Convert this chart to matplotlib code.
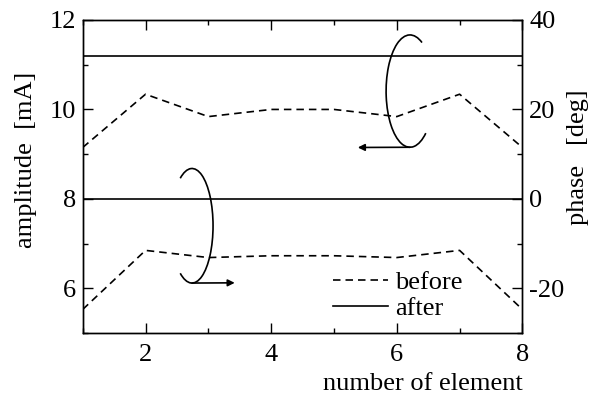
import matplotlib
matplotlib.use('Agg')
import matplotlib.pyplot as plt
from matplotlib.patches import Arc
from matplotlib.ticker import MultipleLocator

plt.rcParams['font.family'] = ['Liberation Serif', 'DejaVu Serif']
plt.rcParams['font.size'] = 19
plt.rcParams['axes.unicode_minus'] = False

elements = [1, 2, 3, 4, 5, 6, 7, 8]
amp_before = [9.15, 10.34, 9.84, 10.0, 10.0, 9.84, 10.34, 9.15]
amp_after = [11.19, 11.19, 11.19, 11.19, 11.19, 11.19, 11.19, 11.19]
phase_before = [-24.7, -11.5, -13.1, -12.7, -12.7, -13.1, -11.5, -24.7]
phase_after = [0, 0, 0, 0, 0, 0, 0, 0]

fig = plt.figure(figsize=(5.95, 3.99), dpi=100)
ax = fig.add_axes([0.139, 0.165, 0.739, 0.785])
ax2 = ax.twinx()

dash = (0, (4.5, 3))
l1, = ax.plot(elements, amp_before, color='black', lw=1.2, linestyle=dash, label='before')
l2, = ax.plot(elements, amp_after, color='black', lw=1.2, label='after')
ax2.plot(elements, phase_before, color='black', lw=1.2, linestyle=dash)
ax2.plot(elements, phase_after, color='black', lw=1.2)

ax.set_xlim(1, 8)
ax.set_ylim(5, 12)
ax2.set_ylim(-30, 40)

ax.xaxis.set_major_locator(MultipleLocator(2))
ax.xaxis.set_minor_locator(MultipleLocator(1))
ax.yaxis.set_major_locator(MultipleLocator(2))
ax.yaxis.set_minor_locator(MultipleLocator(1))
ax2.yaxis.set_major_locator(MultipleLocator(20))
ax2.yaxis.set_minor_locator(MultipleLocator(10))

ax.tick_params(which='both', direction='in', top=True, right=False, width=1)
ax.tick_params(which='major', length=7)
ax.tick_params(which='minor', length=3.5)
ax.tick_params(axis='x', which='major', pad=8)
ax.tick_params(axis='y', which='major', pad=5)
ax2.tick_params(which='both', direction='in', width=1)
ax2.tick_params(which='major', length=7, pad=5)
ax2.tick_params(which='minor', length=3.5)

for a in (ax, ax2):
    for s in a.spines.values():
        s.set_linewidth(1.0)

ax.set_xlabel('number of element', loc='right', labelpad=5)
ax.set_ylabel('amplitude  [mA]')
ax2.set_ylabel('phase   [deg]')
ax.yaxis.set_label_coords(-0.104, 0.553)
ax2.yaxis.set_label_coords(1.101, 0.561)

# curved arrows pointing to each axis
ax.add_patch(Arc((6.21, 10.41), 0.76, 2.51, theta1=80, theta2=285, color='black', lw=1.2))
ax.annotate('', xy=(5.38, 9.15), xytext=(6.21, 9.155),
            arrowprops=dict(arrowstyle='-|>', color='black', lw=1.2, mutation_scale=10,
                            shrinkA=0, shrinkB=0))
ax.add_patch(Arc((2.74, 7.40), 0.67, 2.56, theta1=-100, theta2=100, color='black', lw=1.2))
ax.annotate('', xy=(3.42, 6.125), xytext=(2.74, 6.12),
            arrowprops=dict(arrowstyle='-|>', color='black', lw=1.2, mutation_scale=10,
                            shrinkA=0, shrinkB=0))

ax.legend(handles=[l1, l2], loc='center left', bbox_to_anchor=(0.569, 0.12),
          frameon=False, borderpad=0, borderaxespad=0, handlelength=2.1,
          handletextpad=0.25, labelspacing=0.1)

fig.savefig('out.png', dpi=100)
